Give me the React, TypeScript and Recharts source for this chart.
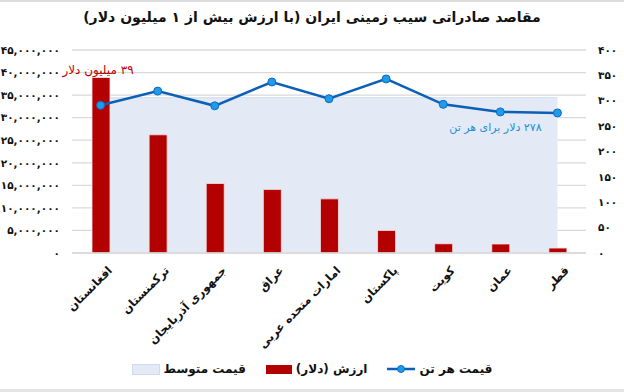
import {
  ComposedChart,
  Bar,
  Line,
  Area,
  XAxis,
  YAxis,
  CartesianGrid,
  Legend,
  LabelList,
} from 'recharts'

const countries = [
  'افغانستان',
  'ترکمنستان',
  'جمهوری آذربایجان',
  'عراق',
  'امارات متحده عربی',
  'پاکستان',
  'کویت',
  'عمان',
  'قطر',
]
// export value in dollars
const exportValue = [38900000, 26200000, 15400000, 14100000, 12000000, 5000000, 2050000, 2000000, 1100000]
// price per ton (right axis)
const pricePerTon = [291, 319, 290, 337, 304, 343, 293, 278, 276]
// average price band, as drawn on the right axis
const avgPrice = [306, 306, 306, 306, 306, 306, 306, 306, 306]

const valueTicks = [0, 5000000, 10000000, 15000000, 20000000, 25000000, 30000000, 35000000, 40000000, 45000000]
const priceTicks = [0, 50, 100, 150, 200, 250, 300, 350, 400]

const FONT = '"DejaVu Sans", sans-serif'

function toPersian(n: number): string {
  return n.toLocaleString('en-US').replace(/\d/g, (d) => '۰۱۲۳۴۵۶۷۸۹'[Number(d)])
}

const chartData = countries.map((name, i) => ({
  name,
  value: exportValue[i],
  price: pricePerTon[i],
  avg: avgPrice[i],
}))

function CountryTick({ x, y, payload }: any) {
  return (
    <text
      x={x + 6}
      y={y + 4}
      transform={`rotate(-45 ${x + 6} ${y + 4})`}
      textAnchor="end"
      dominantBaseline="hanging"
      fontFamily={FONT}
      fontWeight="bold"
      fontSize={11.5}
      fill="#111"
    >
      {payload.value}
    </text>
  )
}

function ChartLegend() {
  const item = { display: 'flex', alignItems: 'center', gap: 4 } as const
  return (
    <div
      style={{
        display: 'flex',
        justifyContent: 'center',
        alignItems: 'center',
        direction: 'rtl',
        height: 20,
        gap: 20,
        fontFamily: FONT,
        fontWeight: 'bold',
        fontSize: 12,
        color: '#111',
      }}
    >
      <div style={item}>
        <span>قیمت هر تن</span>
        <svg width={28} height={10}>
          <line x1={0} y1={5} x2={28} y2={5} stroke="#0B5FB5" strokeWidth={2.5} />
          <circle cx={14} cy={5} r={3.5} fill="#1E9BE9" stroke="#0B6BC4" />
        </svg>
      </div>
      <div style={item}>
        <span>ارزش (دلار)</span>
        <span style={{ width: 26, height: 9, background: '#B30000', display: 'inline-block' }} />
      </div>
      <div style={item}>
        <span>قیمت متوسط</span>
        <span
          style={{
            width: 26,
            height: 9,
            background: '#E3E9F5',
            border: '1px solid #D0DAEE',
            display: 'inline-block',
          }}
        />
      </div>
    </div>
  )
}

export default function App() {
  return (
    <div
      style={{
        position: 'absolute',
        left: 0,
        top: 0,
        width: 624,
        height: 392,
        background: '#fff',
        overflow: 'hidden',
      }}
    >
      <div style={{ position: 'absolute', left: 0, top: 0, width: 624, height: 2, background: '#DCDCDC' }} />
      <div style={{ position: 'absolute', left: 0, bottom: 0, width: 624, height: 3, background: '#E4E4E4' }} />
      <div
        style={{
          position: 'absolute',
          top: 9,
          width: 624,
          textAlign: 'center',
          direction: 'rtl',
          fontFamily: FONT,
          fontWeight: 'bold',
          fontSize: 14,
          color: '#111',
        }}
      >
        مقاصد صادراتی سیب زمینی ایران (با ارزش بیش از ۱ میلیون دلار)
      </div>
      <ComposedChart
        width={624}
        height={392}
        data={chartData}
        margin={{ top: 50, right: 0, left: 0, bottom: 13 }}
      >
        <CartesianGrid yAxisId="left" vertical={false} stroke="#D9D9D9" strokeWidth={1.3} />
        <XAxis
          dataKey="name"
          height={106}
          interval={0}
          tickLine={false}
          axisLine={{ stroke: '#D9D9D9', strokeWidth: 1.5 }}
          tick={<CountryTick />}
        />
        <YAxis
          yAxisId="left"
          orientation="left"
          width={72}
          domain={[0, 45000000]}
          ticks={valueTicks}
          interval={0}
          tickLine={false}
          axisLine={false}
          tickMargin={6}
          tickFormatter={toPersian}
          tick={{ fill: '#111', fontSize: 10.5, fontWeight: 'bold', fontFamily: FONT }}
        />
        <YAxis
          yAxisId="right"
          orientation="right"
          width={38}
          domain={[0, 400]}
          ticks={priceTicks}
          interval={0}
          tickLine={false}
          axisLine={false}
          tickMargin={6}
          tickFormatter={toPersian}
          tick={{ fill: '#111', fontSize: 10.5, fontWeight: 'bold', fontFamily: FONT, textAnchor: 'start' }}
        />
        <Legend verticalAlign="bottom" content={<ChartLegend />} />
        <Area
          yAxisId="right"
          dataKey="avg"
          name="قیمت متوسط"
          type="linear"
          fill="#E3E9F5"
          fillOpacity={1}
          stroke="#D3DCEE"
          strokeWidth={1}
          isAnimationActive={false}
        >
          <LabelList
            dataKey="avg"
            content={(p: any) =>
              p.index === 8 ? (
                <text
                  x={p.x - 62}
                  y={p.y + 33}
                  textAnchor="middle"
                  direction="rtl"
                  fontFamily={FONT}
                  fontSize={11}
                  fill="#1F8FD8"
                >
                  ۲۷۸ دلار برای هر تن
                </text>
              ) : null
            }
          />
        </Area>
        <Bar
          yAxisId="left"
          dataKey="value"
          name="ارزش (دلار)"
          fill="#B30000"
          stroke="#F4E4E4"
          strokeWidth={0.8}
          barSize={18}
          isAnimationActive={false}
        >
          <LabelList
            dataKey="value"
            content={(p: any) =>
              p.index === 0 ? (
                <text
                  x={p.x + p.width / 2 - 3}
                  y={p.y - 4}
                  textAnchor="middle"
                  direction="rtl"
                  fontFamily={FONT}
                  fontSize={12}
                  fill="#C00000"
                >
                  ۳۹ میلیون دلار
                </text>
              ) : null
            }
          />
        </Bar>
        <Line
          yAxisId="right"
          dataKey="price"
          name="قیمت هر تن"
          type="linear"
          stroke="#0B5FB5"
          strokeWidth={2.5}
          dot={{ r: 4, fill: '#1E9BE9', stroke: '#0B6BC4', strokeWidth: 1 }}
          isAnimationActive={false}
        />
      </ComposedChart>
    </div>
  )
}
